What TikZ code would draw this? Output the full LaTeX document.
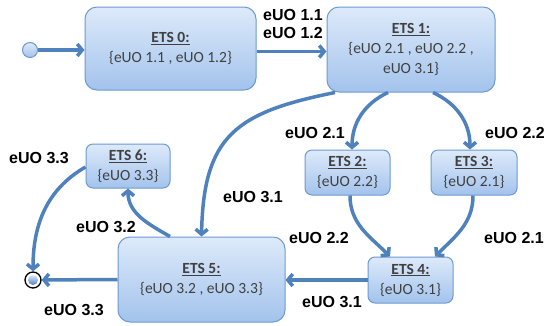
\documentclass[tikz,border=0pt]{standalone}
\usepackage{fontspec}
\setmainfont{Carlito}
\newfontfamily\labelfont{Liberation Sans}
\usetikzlibrary{arrows.meta}
\definecolor{flowblue}{HTML}{4F81BD}
\definecolor{boxedge}{HTML}{6D9AD2}
\definecolor{boxtop}{HTML}{DDEAFA}
\definecolor{boxbottom}{HTML}{A3C3EC}
\definecolor{nodetext}{HTML}{404040}
\begin{document}
\begin{tikzpicture}[x=1pt,y=1pt,
  state/.style={draw=boxedge, line width=1pt, top color=boxtop, bottom color=boxbottom,
    rounded corners=12pt, align=center, text=nodetext, inner sep=0pt,
    font=\fontsize{15.5}{20}\selectfont},
  smallstate/.style={state, rounded corners=7pt},
  flow/.style={draw=flowblue, line width=3.5pt, -{Straight Barb[length=5pt,width=12pt]}},
  lbl/.style={font=\labelfont\bfseries\fontsize{16}{18}\selectfont, align=center, inner sep=0pt}]
\useasboundingbox (0,0) rectangle (546,-325);

% states
\node[state, minimum width=171pt, minimum height=83pt] (ets0) at (170.5,-48.5)
  {\underline{\textbf{ETS 0:}}\\\{eUO 1.1 , eUO 1.2\}};
\node[state, minimum width=168pt, minimum height=85pt] (ets1) at (411,-49.5)
  {\underline{\textbf{ETS 1:}}\\\{eUO 2.1 , eUO 2.2 ,\\eUO 3.1\}};
\node[smallstate, minimum width=85pt, minimum height=45pt] (ets2) at (347.5,-172.5)
  {\underline{\textbf{ETS 2:}}\\\{eUO 2.2\}};
\node[smallstate, minimum width=86pt, minimum height=45pt] (ets3) at (474,-172.5)
  {\underline{\textbf{ETS 3:}}\\\{eUO 2.1\}};
\node[smallstate, minimum width=85pt, minimum height=46pt] (ets4) at (410.5,-280)
  {\underline{\textbf{ETS 4:}}\\\{eUO 3.1\}};
\node[state, minimum width=167pt, minimum height=85pt] (ets5) at (201.5,-279.5)
  {\underline{\textbf{ETS 5:}}\\\{eUO 3.2 , eUO 3.3\}};
\node[smallstate, minimum width=84pt, minimum height=44pt] (ets6) at (128,-166)
  {\underline{\textbf{ETS 6:}}\\\{eUO 3.3\}};

% initial and final pseudo-states
\node[circle, draw=boxedge, line width=1pt, top color=boxtop, bottom color=boxbottom,
  minimum size=15pt, inner sep=0pt] (init) at (30,-50) {};
\node[circle, draw=black, line width=1.3pt, fill=white, minimum size=16pt, inner sep=0pt]
  (final) at (33,-280) {};
\node[circle, top color=boxtop, bottom color=flowblue, minimum size=10pt, inner sep=0pt]
  (finaldot) at (final) {};

% transitions
\draw[flow] (init) -- (init -| ets0.west);
\draw[flow] ([yshift=-3pt]ets0.east) -- ([yshift=-3pt]ets0.east -| ets1.west);
\draw[flow] ([xshift=-23pt]ets1.south) to[out=205,in=90] ([xshift=4.5pt]ets2.north);
\draw[flow] ([xshift=22pt]ets1.south) to[out=-25,in=90] ([xshift=-4pt]ets3.north);
\draw[flow] ([xshift=-76pt]ets1.south) .. controls +(-100,-20) and +(2,100) .. (ets5.north);
\draw[flow] ([xshift=2.5pt]ets2.south) to[out=-90,in=135] ([xshift=-20.5pt]ets4.north);
\draw[flow] ([xshift=-1pt]ets3.south) to[out=-90,in=45] ([xshift=24.5pt]ets4.north);
\draw[flow] (ets4.west) -- (ets4.west -| ets5.east);
\draw[flow] ([xshift=-31.5pt]ets5.north) to[out=150,in=-90] (ets6.south);
\draw[flow] ([yshift=-1pt]ets6.west) to[out=210,in=90] (final);
\draw[flow] (ets5.west) -- (final);

% transition labels
\node[lbl] (l1) at (293,-24) {eUO 1.1\\eUO 1.2};
\node[lbl] (l21a) at (315,-133) {eUO 2.1};
\node[lbl] (l22a) at (515,-133) {eUO 2.2};
\node[lbl] (l31a) at (253,-197) {eUO 3.1};
\node[lbl] (l22b) at (319,-238) {eUO 2.2};
\node[lbl] (l21b) at (514,-238) {eUO 2.1};
\node[lbl] (l31b) at (332,-302) {eUO 3.1};
\node[lbl] (l33a) at (39,-158) {eUO 3.3};
\node[lbl] (l32) at (106,-227) {eUO 3.2};
\node[lbl] (l33b) at (74,-310) {eUO 3.3};
\end{tikzpicture}
\end{document}
